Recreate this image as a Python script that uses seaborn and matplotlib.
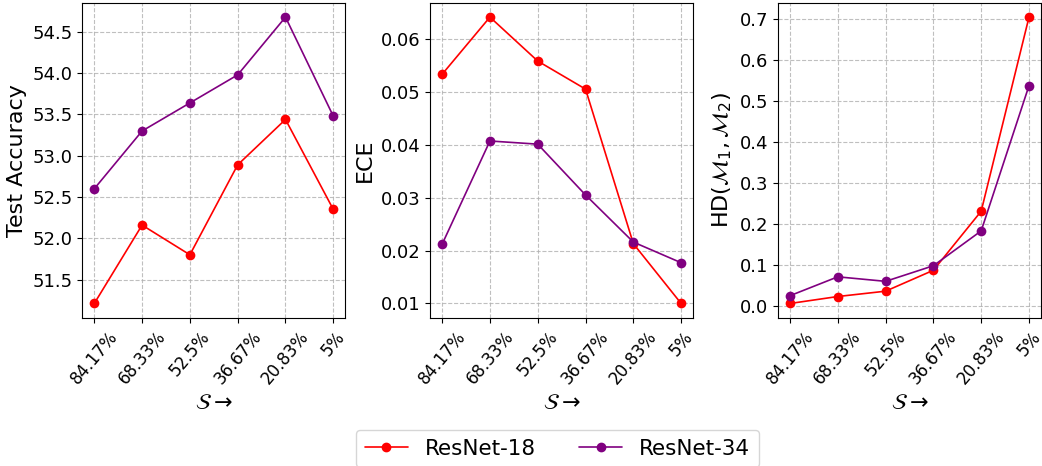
import pandas as pd
import matplotlib
matplotlib.use("Agg")
import matplotlib.pyplot as plt
import seaborn as sns

sparsity = ["84.17%", "68.33%", "52.5%", "36.67%", "20.83%", "5%"]

acc_r18 = [51.21, 52.16, 51.80, 52.89, 53.44, 52.35]
acc_r34 = [52.60, 53.30, 53.64, 53.98, 54.68, 53.48]

ece_r18 = [0.0533, 0.0641, 0.0558, 0.0505, 0.0213, 0.0100]
ece_r34 = [0.0212, 0.0407, 0.0401, 0.0305, 0.0216, 0.0177]

hd_r18 = [0.006, 0.023, 0.036, 0.087, 0.231, 0.704]
hd_r34 = [0.025, 0.071, 0.060, 0.098, 0.183, 0.537]

models = ["ResNet-18", "ResNet-34"]
colors = {"ResNet-18": "red", "ResNet-34": "purple"}


def make_df(r18, r34):
    return pd.DataFrame({
        "S": sparsity * 2,
        "value": r18 + r34,
        "model": [models[0]] * 6 + [models[1]] * 6,
    })


panels = [
    (make_df(acc_r18, acc_r34), "Test Accuracy"),
    (make_df(ece_r18, ece_r34), "ECE"),
    (make_df(hd_r18, hd_r34), r"HD$(\mathcal{M}_1,\mathcal{M}_2)$"),
]

sns.set_style("ticks", {"text.color": "black", "axes.labelcolor": "black",
                        "xtick.color": "black", "ytick.color": "black",
                        "axes.edgecolor": "black"})

fig, axes = plt.subplots(1, 3, figsize=(10.42, 4.66), dpi=100)
fig.subplots_adjust(left=0.079, right=0.999, top=0.994, bottom=0.318, wspace=0.323)

for ax, (df, ylab) in zip(axes, panels):
    sns.lineplot(data=df, x="S", y="value", hue="model", palette=colors,
                 marker="o", markersize=7, markeredgewidth=0, linewidth=1.2,
                 sort=False, ax=ax, legend=False)
    ax.grid(True, linestyle="--", color="#b0b0b0", linewidth=0.8, alpha=0.8)
    ax.set_ylabel(ylab, fontsize=16)
    ax.set_xlabel(r"$\mathcal{S}\rightarrow$", fontsize=16)
    ax.tick_params(axis="y", labelsize=13)
    ax.tick_params(axis="x", labelsize=12, rotation=50)

handles = [plt.Line2D([], [], color=colors[m], marker="o", markersize=6,
                      linewidth=1.2, label=m) for m in models]
fig.legend(handles=handles, loc="upper center", bbox_to_anchor=(0.535, 0.077),
           borderaxespad=0, ncol=2, fontsize=15.5, frameon=True, columnspacing=2.0)

plt.savefig("out.png", dpi=100)
